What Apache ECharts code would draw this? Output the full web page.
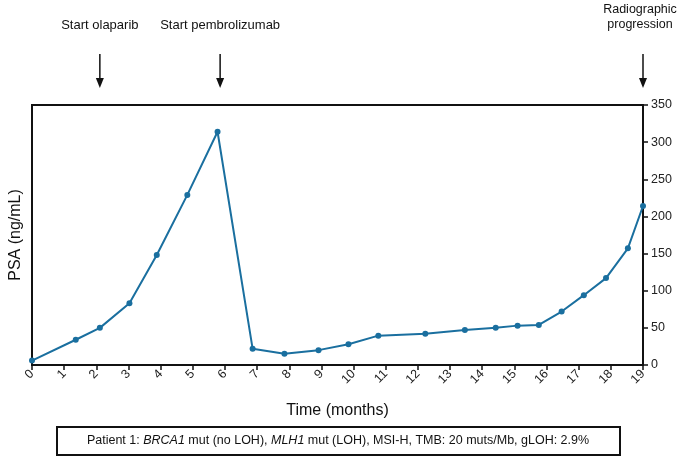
<!DOCTYPE html>
<html>
<head>
<meta charset="utf-8">
<script src="https://cdn.jsdelivr.net/npm/echarts@6/dist/echarts.min.js"></script>
<style>
  html, body { margin: 0; padding: 0; background: #fff; }
  #chart { width: 680px; height: 461px; }
</style>
</head>
<body>
<div id="chart"></div>
<script>
// PSA 随时间变化（月）
const months = [0, 1.36, 2.11, 3.03, 3.88, 4.83, 5.77, 6.86, 7.85, 8.91, 9.84, 10.77, 12.23, 13.46, 14.42, 15.10, 15.76, 16.47, 17.16, 17.85, 18.53, 19.0];
const psa = [6, 34, 50, 83, 148, 229, 314, 22, 15, 20, 28, 39.5, 42, 47, 50, 53, 54, 72, 94, 117, 157, 214];
// 事件标注
const eventMonths = [2.11, 5.85, 19.0];
const eventLabels = ['Start olaparib', 'Start pembrolizumab', 'Radiographic\nprogression'];

const narrow = '"Liberation Sans Narrow", "Arial Narrow", "Liberation Sans", Arial, sans-serif';
const lineColor = '#1a6f9f';

const chart = echarts.init(document.getElementById('chart'));

chart.setOption({
  animation: false,
  grid: {
    left: 32,
    right: 37,
    top: 105,
    bottom: 96,
    containLabel: false,
    outerBoundsMode: 'none',
    show: true,
    borderColor: '#111',
    borderWidth: 2
  },
  xAxis: {
    type: 'value',
    min: 0,
    max: 19,
    interval: 1,
    name: 'Time (months)',
    nameLocation: 'middle',
    nameGap: 38,
    nameTextStyle: { fontFamily: narrow, fontSize: 16, color: '#111' },
    axisLine: { onZero: false, lineStyle: { color: '#111', width: 2 } },
    axisTick: { show: true, length: 5, lineStyle: { color: '#111', width: 1.5 } },
    axisLabel: { rotate: 45, fontFamily: narrow, fontSize: 12.5, color: '#222', margin: 7 },
    splitLine: { show: false }
  },
  yAxis: {
    type: 'value',
    position: 'right',
    min: 0,
    max: 350,
    interval: 50,
    axisLine: { show: true, onZero: false, lineStyle: { color: '#111', width: 2 } },
    axisTick: { show: true, length: 5, lineStyle: { color: '#111', width: 1.5 } },
    axisLabel: { fontFamily: narrow, fontSize: 12.5, color: '#222', margin: 8 },
    splitLine: { show: false }
  },
  series: [
    {
      type: 'line',
      data: months.map((m, i) => [m, psa[i]]),
      symbol: 'circle',
      symbolSize: 6,
      clip: false,
      lineStyle: { color: lineColor, width: 2 },
      itemStyle: { color: lineColor }
    }
  ]
});

// y轴名称放到左边
const y0 = chart.convertToPixel({ gridIndex: 0 }, [0, 175]);
const graphics = [
  {
    type: 'text',
    x: 16, y: y0[1],
    rotation: Math.PI / 2,
    style: {
      text: 'PSA (ng/mL)', fontFamily: narrow, fontSize: 16, fill: '#111',
      align: 'center', verticalAlign: 'middle'
    }
  },
  {
    type: 'rect',
    shape: { x: 57, y: 427, width: 563, height: 28 },
    style: { fill: '#fff', stroke: '#111', lineWidth: 2 }
  },
  {
    type: 'text',
    x: 338, y: 441,
    style: {
      text: 'Patient 1: {i|BRCA1} mut (no LOH), {i|MLH1} mut (LOH), MSI-H, TMB: 20 muts/Mb, gLOH: 2.9%',
      rich: { i: { fontStyle: 'italic', fontFamily: 'Liberation Sans, Arial, sans-serif', fontSize: 12.5, fill: '#111' } },
      fontFamily: 'Liberation Sans, Arial, sans-serif', fontSize: 12.5, fill: '#111',
      align: 'center', verticalAlign: 'middle'
    }
  }
];

// 事件箭头
eventMonths.forEach((m, i) => {
  const px = chart.convertToPixel({ gridIndex: 0 }, [m, 0])[0];
  graphics.push({
    type: 'line',
    shape: { x1: px, y1: 54, x2: px, y2: 80 },
    style: { stroke: '#111', lineWidth: 1.5 }
  });
  graphics.push({
    type: 'polygon',
    shape: { points: [[px - 4, 78], [px + 4, 78], [px, 88]] },
    style: { fill: '#111' }
  });
  const last = i === eventMonths.length - 1;
  graphics.push({
    type: 'text',
    x: last ? Math.min(px, 640) : px,
    y: last ? 17 : 25,
    style: {
      text: eventLabels[i], fontFamily: narrow, fontSize: last ? 12.5 : 13, fill: '#111',
      align: 'center', verticalAlign: 'middle', lineHeight: 15
    }
  });
});

chart.setOption({ graphic: graphics });
</script>
</body>
</html>
